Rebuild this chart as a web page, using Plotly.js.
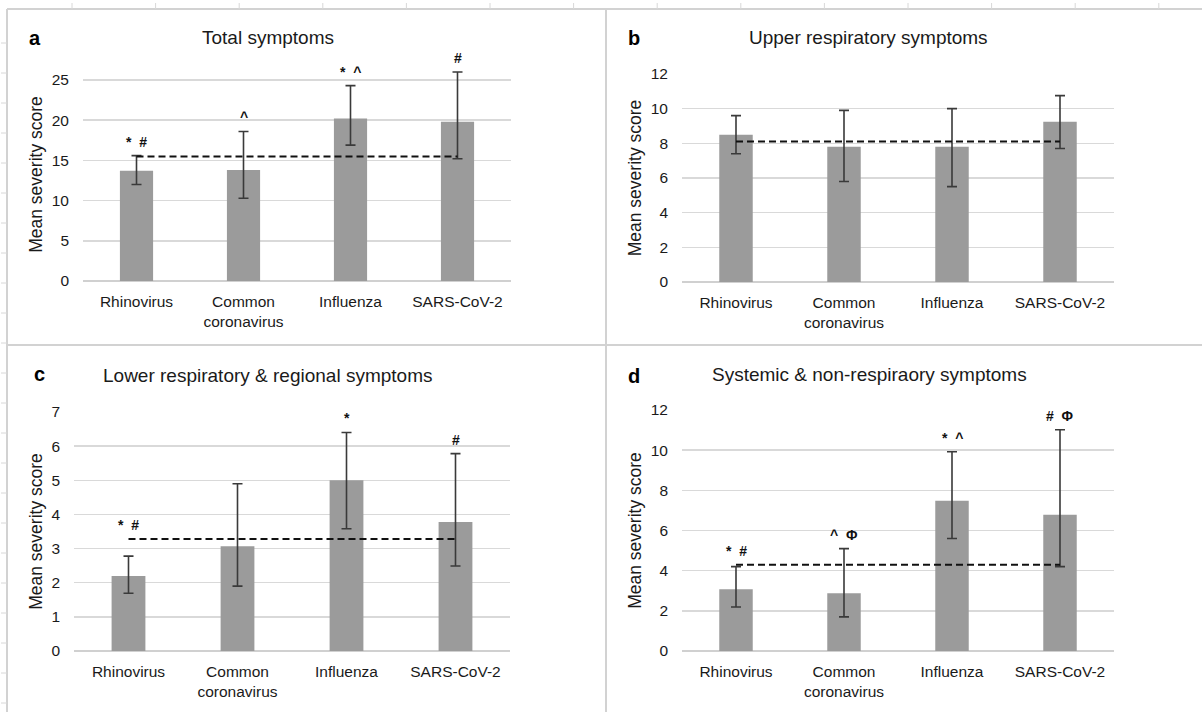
<!DOCTYPE html>
<html><head><meta charset="utf-8">
<script src="https://cdn.plot.ly/plotly-3.0.1.min.js"></script>
<style>html,body{margin:0;padding:0;background:#fff}#chart{width:1202px;height:712px}</style>
</head><body><div id="chart"></div>
<script>
// ---------- data ----------
const categories = ["Rhinovirus", "Common<br>coronavirus", "Influenza", "SARS-CoV-2"];
const panelLetters = ["a", "b", "c", "d"];
const panelTitles = ["Total symptoms", "Upper respiratory symptoms",
  "Lower respiratory & regional symptoms", "Systemic & non-respiraory symptoms"];
const yAxisTitle = "Mean severity score";

const totalMean = [13.7, 13.8, 20.2, 19.8];
const totalErrHigh = [15.6, 18.6, 24.3, 26.0];
const totalErrLow = [12.0, 10.3, 16.9, 15.2];
const totalOverall = 15.5;
const totalSig = ["* #", "^", "* ^", "#"];

const upperMean = [8.5, 7.8, 7.8, 9.25];
const upperErrHigh = [9.6, 9.9, 10.0, 10.75];
const upperErrLow = [7.4, 5.8, 5.5, 7.7];
const upperOverall = 8.1;
const upperSig = ["", "", "", ""];

const lowerMean = [2.2, 3.07, 5.0, 3.78];
const lowerErrHigh = [2.78, 4.9, 6.4, 5.78];
const lowerErrLow = [1.69, 1.9, 3.58, 2.49];
const lowerOverall = 3.28;
const lowerSig = ["* #", "", "*", "#"];

const systemicMean = [3.07, 2.88, 7.48, 6.78];
const systemicErrHigh = [4.2, 5.1, 9.92, 11.02];
const systemicErrLow = [2.19, 1.7, 5.6, 4.2];
const systemicOverall = 4.3;
const systemicSig = ["* #", "^ Φ", "* ^", "# Φ"];

const panels = [
  {mean: totalMean, hi: totalErrHigh, lo: totalErrLow, overall: totalOverall, sig: totalSig},
  {mean: upperMean, hi: upperErrHigh, lo: upperErrLow, overall: upperOverall, sig: upperSig},
  {mean: lowerMean, hi: lowerErrHigh, lo: lowerErrLow, overall: lowerOverall, sig: lowerSig},
  {mean: systemicMean, hi: systemicErrHigh, lo: systemicErrLow, overall: systemicOverall, sig: systemicSig}
];

// ---------- layout geometry (pixels) ----------
const W = 1202, H = 712;
const geo = [
  {x0: 83, x1: 511, y0: 281, refPx: 80, refVal: 25, top: 26.5, dtick: 5, tx: 268, ty: 38, lx: 27, ly: 38},
  {x0: 682, x1: 1114, y0: 282, refPx: 74, refVal: 12, top: 12, dtick: 2, tx: 868, ty: 38, lx: 626, ly: 38},
  {x0: 74, x1: 510, y0: 651, refPx: 412, refVal: 7, top: 7, dtick: 1, tx: 267, ty: 376, lx: 32, ly: 374},
  {x0: 682, x1: 1114, y0: 651, refPx: 410, refVal: 12, top: 12, dtick: 2, tx: 869, ty: 374, lx: 626, ly: 376}
];
const px = v => v / W;
const py = v => 1 - v / H;

const FONT = "Liberation Sans, Arial, sans-serif";
const TXT = "#1a1a1a";
const BAR = "#9b9b9b";
const GRID = "#d9d9d9";

const traces = [];
const layout = {
  width: W, height: H,
  margin: {l: 0, r: 0, t: 0, b: 0},
  paper_bgcolor: "#ffffff", plot_bgcolor: "rgba(0,0,0,0)",
  showlegend: false, bargap: 0.69,
  font: {family: FONT, color: TXT, size: 15.5},
  annotations: [], shapes: []
};

panels.forEach((p, i) => {
  const g = geo[i];
  const n = i === 0 ? "" : String(i + 1);
  const xa = "x" + n, ya = "y" + n;
  traces.push({
    type: "bar", x: categories, y: p.mean, xaxis: xa, yaxis: ya,
    marker: {color: BAR}, hoverinfo: "skip",
    error_y: {
      type: "data", symmetric: false,
      array: p.hi.map((h, k) => h - p.mean[k]),
      arrayminus: p.lo.map((l, k) => p.mean[k] - l),
      color: "#3a3a3a", thickness: 1.6, width: 5
    }
  });
  traces.push({
    type: "scatter", mode: "lines", xaxis: xa, yaxis: ya,
    x: [categories[0], categories[categories.length - 1]],
    y: [p.overall, p.overall],
    line: {color: "#111111", width: 2, dash: "7px,4px"}, hoverinfo: "skip"
  });
  const pxPerUnit = (g.y0 - g.refPx) / g.refVal;
  const topPx = g.y0 - g.top * pxPerUnit;
  layout["xaxis" + n] = {
    type: "category", domain: [px(g.x0), px(g.x1)], anchor: ya,
    range: [-0.5, 3.5], showgrid: false, zeroline: false, showline: false,
    ticks: "", ticklabelstandoff: 9, tickfont: {size: 15.5, color: TXT}, fixedrange: true
  };
  layout["yaxis" + n] = {
    domain: [py(g.y0), py(topPx)], anchor: xa,
    range: [0, g.top], tick0: 0, dtick: g.dtick,
    showgrid: true, gridcolor: GRID, gridwidth: 1.5,
    zeroline: true, zerolinecolor: "#d0d0d0", zerolinewidth: 1.5,
    showline: false, ticks: "", ticklabelstandoff: 13,
    tickfont: {size: 15.5, color: TXT}, fixedrange: true,
    title: {text: yAxisTitle, font: {size: 17.5, color: TXT}, standoff: 4}
  };
  // panel title and letter
  layout.annotations.push({
    xref: "paper", yref: "paper", x: px(g.tx), y: py(g.ty), xanchor: "center", yanchor: "middle",
    text: panelTitles[i], showarrow: false, font: {size: 19, color: TXT}
  });
  layout.annotations.push({
    xref: "paper", yref: "paper", x: px(g.lx), y: py(g.ly), xanchor: "left", yanchor: "middle",
    text: "<b>" + panelLetters[i] + "</b>", showarrow: false, font: {size: 20, color: "#000"}
  });
  // significance markers
  p.sig.forEach((s, k) => {
    if (!s) return;
    layout.annotations.push({
      xref: xa, yref: ya, x: categories[k], y: Math.max(p.hi[k], p.overall),
      xanchor: "center", yanchor: "bottom", yshift: 4,
      text: "<b>" + s.replace(" ", "&nbsp; ") + "</b>", showarrow: false,
      font: {size: 14, color: "#111"}
    });
  });
});

// sheet borders
const border = {type: "line", xref: "paper", yref: "paper", line: {color: "#d2d2d2", width: 2}, layer: "below"};
[[7, 9, 1202, 9], [7, 9, 7, 712], [7, 345, 1202, 345], [606, 9, 606, 712]].forEach(b => {
  layout.shapes.push(Object.assign({}, border, {x0: px(b[0]), y0: py(b[1]), x1: px(b[2]), y1: py(b[3])}));
});
// faint sheet ticks along the top and left edges
const tick = {type: "line", xref: "paper", yref: "paper", line: {color: "#d8d8d8", width: 1}, layer: "below"};
for (let x = 72; x < W; x += 83.6) {
  layout.shapes.push(Object.assign({}, tick, {x0: px(x), x1: px(x), y0: py(3), y1: py(9)}));
}
for (let y = 43; y < H; y += 30) {
  layout.shapes.push(Object.assign({}, tick, {x0: px(1), x1: px(7), y0: py(y), y1: py(y)}));
}

Plotly.newPlot("chart", traces, layout, {staticPlot: true, displayModeBar: false});
</script>
</body></html>
